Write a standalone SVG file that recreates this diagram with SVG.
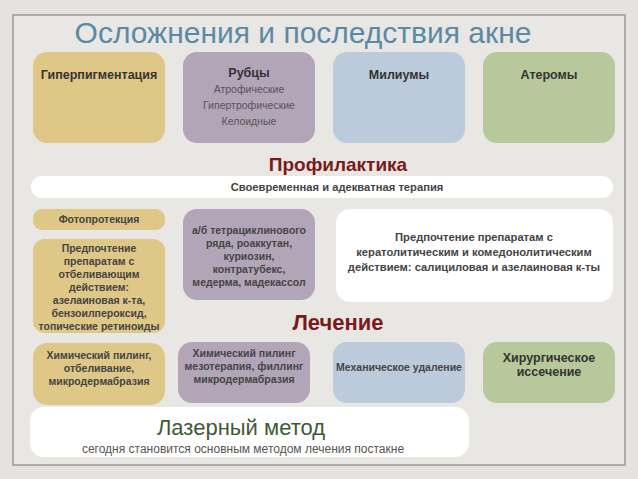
<svg xmlns="http://www.w3.org/2000/svg" width="638" height="479" viewBox="0 0 638 479">
<style>
text{font-family:"Liberation Sans",Arial,sans-serif;text-anchor:middle;fill:#333}
.h{font-weight:bold;font-size:12.5px}
.s{font-size:10.5px;fill:#555}
.b{font-size:10.5px;font-weight:bold;fill:#444}
.bw{font-size:11.2px;font-weight:bold;fill:#444}
.y{fill:#dfc887}.p{fill:#b3a5b8}.bl{fill:#bccbdb}.g{fill:#b7c99a}.w{fill:#fff}
</style>
<rect width="638" height="479" fill="#e4e3df"/>
<rect x="13" y="15" width="612" height="450" fill="#e8e7e3" stroke="#999" stroke-width="1.5"/>
<text x="303" y="43" style="font-size:30px;fill:#5b8aa5">Осложнения и последствия акне</text>
<g id="n1"><rect class="y" x="33" y="52" width="132" height="91" rx="14"/><text class="h" x="99" y="79">Гиперпигментация</text></g>
<g id="n2"><rect class="p" x="183" y="52" width="132" height="91" rx="14"/><text class="h" x="249" y="77">Рубцы</text><text class="s" x="249" y="93">Атрофические</text><text class="s" x="249" y="109">Гипертрофические</text><text class="s" x="249" y="125">Келоидные</text></g>
<g id="n3"><rect class="bl" x="333" y="52" width="132" height="91" rx="14"/><text class="h" x="399" y="79">Милиумы</text></g>
<g id="n4"><rect class="g" x="483" y="52" width="132" height="91" rx="14"/><text class="h" x="549" y="79">Атеромы</text></g>
<text x="338" y="171" style="font-size:19px;font-weight:bold;fill:#7a1a1a">Профилактика</text>
<g id="n5"><rect class="w" x="31" y="176" width="582" height="22" rx="11"/><text class="bw" x="337" y="191">Своевременная и адекватная терапия</text></g>
<g id="n6"><rect class="y" x="33" y="209" width="132" height="21" rx="9"/><text class="b" x="99" y="223">Фотопротекция</text></g>
<g id="n7"><rect class="y" x="33" y="239" width="132" height="94" rx="12"/>
<text class="b"><tspan x="99" y="252">Предпочтение</tspan><tspan x="99" y="265">препаратам с</tspan><tspan x="99" y="278">отбеливающим</tspan><tspan x="99" y="291">действием:</tspan><tspan x="99" y="304">азелаиновая к-та,</tspan><tspan x="99" y="317">бензоилпероксид,</tspan><tspan x="99" y="330">топические ретиноиды</tspan></text></g>
<g id="n8"><rect class="p" x="183" y="209" width="132" height="91" rx="14"/>
<text class="b"><tspan x="249" y="234">а/б тетрациклинового</tspan><tspan x="249" y="247">ряда, роаккутан,</tspan><tspan x="249" y="260">куриозин,</tspan><tspan x="249" y="273">контратубекс,</tspan><tspan x="249" y="286">медерма, мадекассол</tspan></text></g>
<g id="n9"><rect class="w" x="336" y="209" width="277" height="93" rx="14"/>
<text class="bw"><tspan x="474" y="241">Предпочтение препаратам с</tspan><tspan x="474" y="256">кератолитическим и комедонолитическим</tspan><tspan x="474" y="271">действием: салициловая и азелаиновая к-ты</tspan></text></g>
<text x="338" y="330" style="font-size:22px;font-weight:bold;fill:#7a1a1a">Лечение</text>
<g id="n10"><rect class="y" x="33" y="343" width="132" height="62" rx="14"/><text class="b"><tspan x="99" y="359">Химический пилинг,</tspan><tspan x="99" y="372">отбеливание,</tspan><tspan x="99" y="385">микродермабразия</tspan></text></g>
<g id="n11"><rect class="p" x="178" y="342" width="132" height="61" rx="14"/><text class="b"><tspan x="244" y="357">Химический пилинг</tspan><tspan x="244" y="370">мезотерапия, филлинг</tspan><tspan x="244" y="383">микродермабразия</tspan></text></g>
<g id="n12"><rect class="bl" x="333" y="342" width="132" height="61" rx="14"/><text class="b" x="399" y="371">Механическое удаление</text></g>
<g id="n13"><rect class="g" x="483" y="342" width="132" height="61" rx="14"/><text class="h"><tspan x="549" y="362">Хирургическое</tspan><tspan x="549" y="376">иссечение</tspan></text></g>
<g id="n14"><rect class="w" x="30" y="407" width="439" height="50" rx="14"/><text x="241" y="435" style="font-size:22px;fill:#3d5a36">Лазерный метод</text><text x="243" y="453" style="font-size:12px;fill:#555">сегодня становится основным методом лечения постакне</text></g>
<g id="connectors"/>
</svg>
